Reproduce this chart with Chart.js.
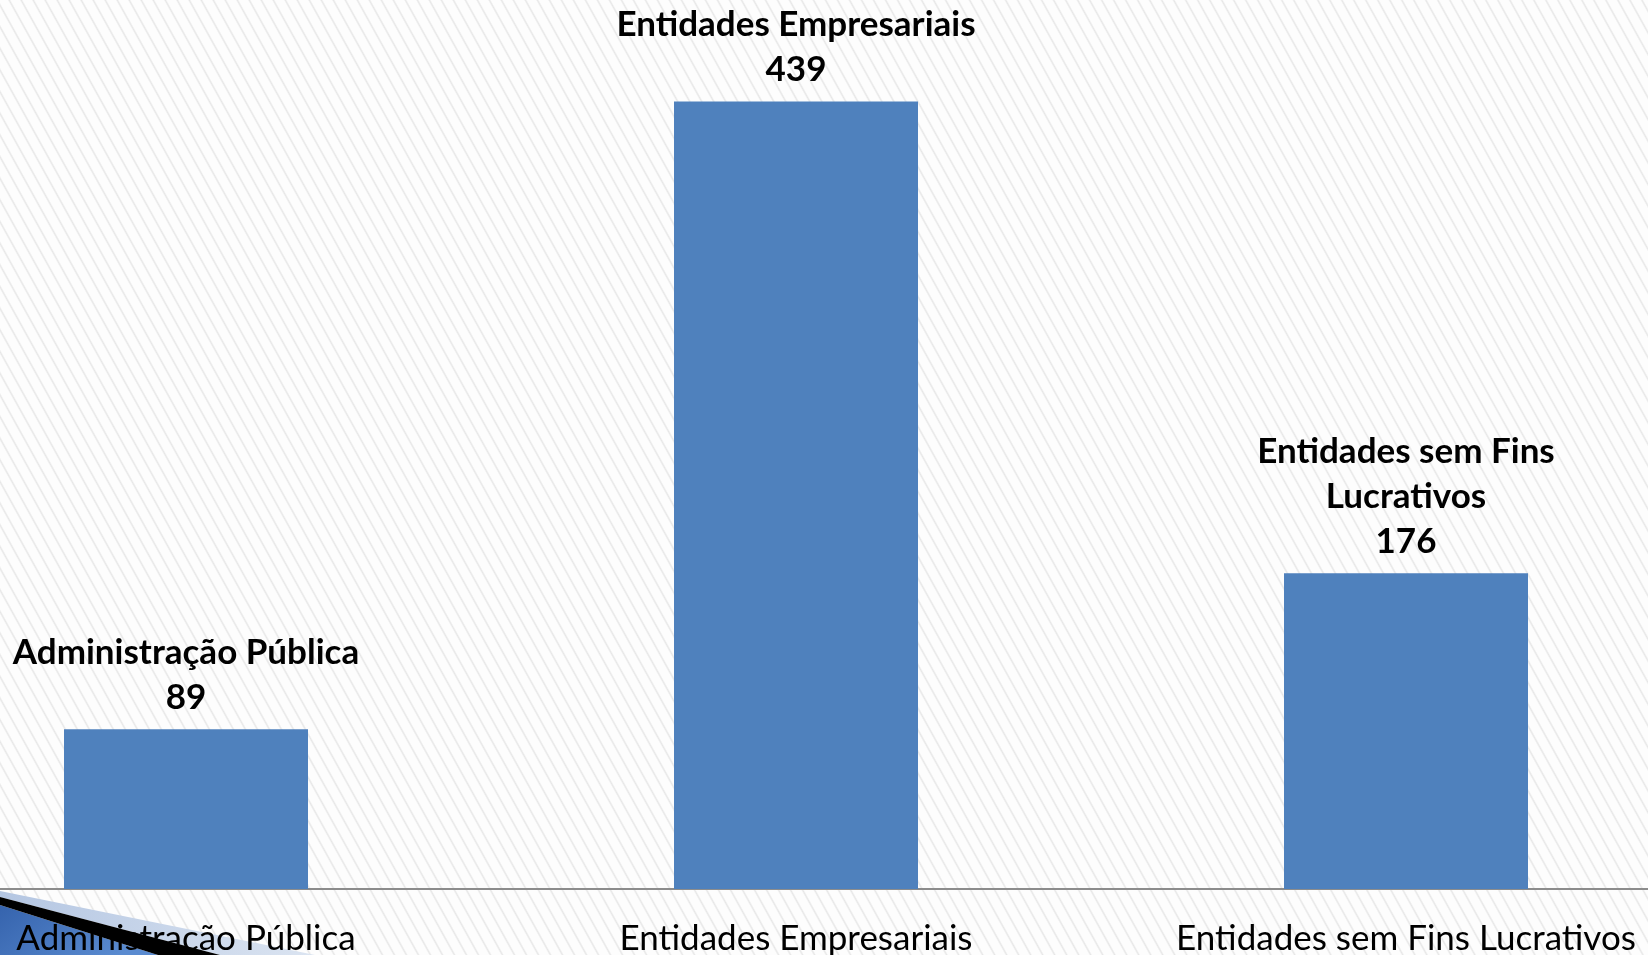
<!DOCTYPE html>
<html lang="pt">
<head>
<meta charset="utf-8">
<title>Entidades por tipo</title>
<script src="https://cdn.jsdelivr.net/npm/chart.js@4.4.1/dist/chart.umd.min.js"></script>
<style>
  html, body { margin: 0; padding: 0; overflow: hidden; background: #fff; }
  #stage {
    position: relative; width: 1648px; height: 955px; overflow: hidden;
    background: repeating-linear-gradient(61deg,
      #fdfdfd 0px, #fdfdfd 7.5px, #e7e7e7 9px, #fdfdfd 10.5px);
  }
  #corner { position: absolute; left: 0; top: 0; }
  #chartBox { position: absolute; left: -119px; top: -8px; width: 1830px; height: 977px; }
</style>
</head>
<body>
<div id="stage">
  <svg id="corner" width="1648" height="955" viewBox="0 0 1648 955">
    <defs>
      <linearGradient id="pale" x1="0" y1="0" x2="1" y2="0">
        <stop offset="0" stop-color="#b4c6e2"/>
        <stop offset="1" stop-color="#dbe4f1"/>
      </linearGradient>
      <linearGradient id="deep" x1="0" y1="0" x2="1" y2="0.4">
        <stop offset="0" stop-color="#3563ad"/>
        <stop offset="1" stop-color="#5a8bd0"/>
      </linearGradient>
    </defs>
    <polygon points="0,891 315,955 220,955 0,897" fill="url(#pale)"/>
    <polygon points="0,905 158,955 0,955" fill="url(#deep)"/>
    <polygon points="0,897 220,955 158,955 0,905" fill="#000"/>
  </svg>
  <div id="chartBox"><canvas id="chart" width="1830" height="977"></canvas></div>
</div>
<script>
// Categories, values and the wrapped text shown above each bar
const categories = ["Administração Pública", "Entidades Empresariais", "Entidades sem Fins Lucrativos"];
const values = [89, 439, 176];
const dataLabelLines = [
  ["Administração Pública"],
  ["Entidades Empresariais"],
  ["Entidades sem Fins", "Lucrativos"]
];

const FONT = "Lato, 'Noto Sans', 'DejaVu Sans', sans-serif";

// Draws the category name and value stacked above each bar
const valueLabels = {
  id: 'valueLabels',
  afterDatasetsDraw(chart) {
    const ctx = chart.ctx;
    const meta = chart.getDatasetMeta(0);
    ctx.save();
    ctx.font = "bold 35px " + FONT;
    ctx.fillStyle = '#000';
    ctx.textAlign = 'center';
    ctx.textBaseline = 'alphabetic';
    const lineH = 45;
    meta.data.forEach((bar, i) => {
      const lines = dataLabelLines[i].concat([String(values[i])]);
      let y = bar.y - 20;
      for (let k = lines.length - 1; k >= 0; k--) {
        ctx.fillText(lines[k], bar.x, y);
        y -= lineH;
      }
    });
    ctx.restore();
  }
};

new Chart(document.getElementById('chart'), {
  type: 'bar',
  data: {
    labels: categories,
    datasets: [{
      data: values,
      backgroundColor: '#4f81bd',
      borderWidth: 0,
      barPercentage: 0.4,
      categoryPercentage: 1.0
    }]
  },
  options: {
    responsive: false,
    animation: false,
    devicePixelRatio: 1,
    layout: { padding: 0 },
    plugins: { legend: { display: false }, tooltip: { enabled: false } },
    scales: {
      x: {
        grid: { display: false, drawTicks: false },
        border: { display: true, color: '#8c8c8c', width: 2 },
        ticks: {
          color: '#000',
          font: { family: FONT, size: 35 },
          padding: 29,
          maxRotation: 0,
          autoSkip: false
        },
        afterFit(scale) { scale.height = 80; }
      },
      y: {
        display: false,
        min: 0,
        max: 500
      }
    }
  },
  plugins: [valueLabels]
});
</script>
</body>
</html>
